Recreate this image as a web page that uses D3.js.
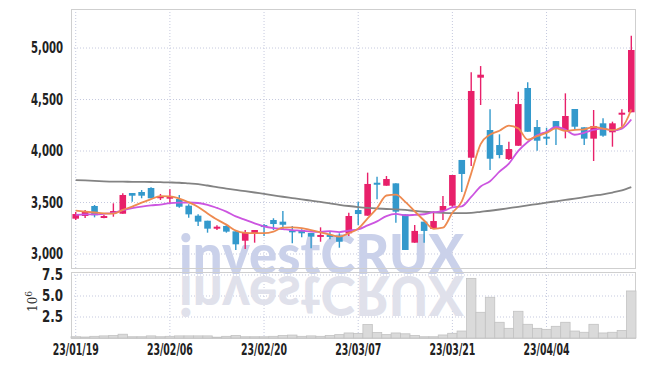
<!DOCTYPE html>
<html>
<head>
<meta charset="utf-8">
<script src="https://cdn.jsdelivr.net/npm/d3@7"></script>
<style>
  body { margin: 0; background: #fff; }
  svg { display: block; }
</style>
</head>
<body>
<div id="chart"></div>
<script>
// trading days shown on the chart
var dates = ["23/01/19","23/01/20","23/01/25","23/01/26","23/01/27","23/01/30","23/01/31","23/02/01","23/02/02","23/02/03",
  "23/02/06","23/02/07","23/02/08","23/02/09","23/02/10","23/02/13","23/02/14","23/02/15","23/02/16","23/02/17",
  "23/02/20","23/02/21","23/02/22","23/02/23","23/02/24","23/02/27","23/02/28","23/03/02","23/03/03","23/03/06",
  "23/03/07","23/03/08","23/03/09","23/03/10","23/03/13","23/03/14","23/03/15","23/03/16","23/03/17","23/03/20",
  "23/03/21","23/03/22","23/03/23","23/03/24","23/03/27","23/03/28","23/03/29","23/03/30","23/03/31","23/04/03",
  "23/04/04","23/04/05","23/04/06","23/04/07","23/04/10","23/04/11","23/04/12","23/04/13","23/04/14","23/04/17"];
var dateTicks = ["23/01/19","23/02/06","23/02/20","23/03/07","23/03/21","23/04/04"];

var open  = [3343,3369,3466,3356,3398,3391,3592,3602,3641,3541, 3537,3534,3469,3372,3323,3246,3272,3220,3129,3201,
  3281,3330,3314,3230,3233,3204,3168,3185,3178,3201, 3427,3372,3692,3663,3686,3385,3110,3314,3243,3420,
  3469,3913,3935,4712,4204,4058,3922,4051,4612,4233, 4139,4291,4204,4408,4230,4120,4269,4182,4353,4376];
var high  = [3408,3427,3476,3379,3492,3589,3592,3621,3648,3583, 3628,3573,3482,3385,3323,3279,3281,3233,3233,3233,
  3291,3347,3417,3272,3240,3204,3259,3224,3201,3401, 3508,3790,3750,3757,3686,3385,3282,3314,3414,3563,
  3767,3913,4764,4825,4405,4162,4090,4576,4667,4301, 4226,4291,4560,4408,4230,4398,4317,4285,4405,5119];
var low   = [3330,3349,3356,3347,3362,3391,3508,3541,3541,3524, 3495,3450,3352,3272,3207,3233,3207,3039,3048,3110,
  3175,3233,3233,3104,3162,3055,3119,3143,3061,3175, 3282,3372,3531,3663,3304,3039,3110,3110,3243,3330,
  3450,3602,3854,4447,3816,3929,3913,4051,4187,4003, 4058,4058,4123,4204,4058,3903,4139,4042,4236,4376];
var close = [3388,3408,3376,3369,3417,3573,3566,3566,3541,3563, 3563,3459,3385,3314,3246,3265,3217,3094,3207,3233,
  3265,3291,3284,3217,3201,3168,3185,3168,3119,3369, 3388,3680,3673,3728,3411,3039,3224,3224,3320,3466,
  3767,3777,4583,4741,3925,3961,4019,4456,4187,4100, 4120,4233,4340,4236,4120,4243,4149,4269,4372,4981];
// volume in millions
var volume = [0.15,0.12,0.2,0.25,0.3,0.45,0.15,0.15,0.25,0.15, 0.2,0.25,0.25,0.25,0.25,0.1,0.2,0.3,0.15,0.15,
  0.15,0.2,0.3,0.35,0.2,0.25,0.2,0.3,0.4,0.6, 0.55,1.6,0.65,0.4,0.6,0.5,0.3,0.15,0.15,0.36,
  0.56,0.83,7.1,3.06,4.85,1.87,1.15,3.18,1.63,1.15, 1.03,1.39,1.87,0.83,0.68,1.63,0.6,0.68,0.9,5.6];

// moving averages as drawn
var ma5  = [3422,3412,3403,3395,3392,3429,3460,3498,3533,3562, 3560,3538,3502,3457,3393,3334,3285,3227,3206,3203,
  3203,3218,3256,3258,3252,3232,3211,3188,3168,3202, 3246,3345,3446,3568,3576,3506,3415,3325,3244,3255,
  3400,3511,3783,4067,4159,4197,4246,4220,4110,4145, 4176,4219,4196,4206,4210,4234,4218,4203,4231,4403];
var ma10 = [3380,3385,3385,3390,3400,3425,3445,3460,3472,3480, 3494,3499,3500,3495,3478,3447,3412,3365,3331,3298,
  3269,3252,3242,3232,3227,3218,3215,3222,3213,3227, 3239,3278,3317,3368,3389,3376,3380,3386,3406,3415,
  3453,3463,3554,3655,3707,3799,3878,4002,4088,4152, 4187,4233,4208,4158,4177,4205,4218,4200,4218,4306];
var ma60 = [3718,3714,3710,3706,3703,3702,3701,3700,3699,3697, 3695,3692,3685,3678,3665,3650,3635,3622,3610,3597,
  3583,3570,3556,3543,3530,3518,3506,3492,3478,3466, 3456,3448,3442,3437,3434,3428,3418,3410,3404,3400,
  3397,3396,3400,3410,3420,3432,3445,3458,3472,3485, 3499,3512,3525,3538,3552,3566,3580,3597,3618,3650];

var priceTicks = [3000,3500,4000,4500,5000];
var volTicks = [2.5,5.0,7.5];

var width = 645, height = 366;
var left = 71, right = 636;
var mainTop = 9, mainBottom = 268;
var volTop = 272, volBottom = 338;
var upColor = "#e8206a", downColor = "#3399cc";
var labelFont = "'Liberation Sans Narrow','DejaVu Sans Condensed',sans-serif";

var svg = d3.select("#chart").append("svg")
    .attr("width", width)
    .attr("height", height);

var x = d3.scaleBand()
  .domain(dates)
  .range([left, right])
  .paddingInner(0.3)
  .paddingOuter(0.15);
var cx = function(i) { return x(dates[i]) + x.bandwidth() / 2; };

var y = d3.scaleLinear()
  .domain([2864, 5379])
  .range([mainBottom, mainTop]);

var yv = d3.scaleLinear()
  .domain([0, 7.5])
  .range([volBottom, 275]);

// grid lines
var grid = svg.append("g")
  .attr("stroke", "#c5c9de")
  .attr("stroke-width", 1)
  .attr("stroke-dasharray", "1,2");
priceTicks.forEach(function(t) {
  grid.append("line").attr("x1", left).attr("x2", right).attr("y1", y(t)).attr("y2", y(t));
});
volTicks.forEach(function(t) {
  grid.append("line").attr("x1", left).attr("x2", right).attr("y1", yv(t)).attr("y2", yv(t));
});
dateTicks.forEach(function(d) {
  var xx = x(d) + x.bandwidth() / 2;
  grid.append("line").attr("x1", xx).attr("x2", xx).attr("y1", mainTop).attr("y2", mainBottom);
  grid.append("line").attr("x1", xx).attr("x2", xx).attr("y1", volTop).attr("y2", volBottom);
});

// watermark and its reflection
var wm = svg.append("g").attr("font-family", "Lato, 'Open Sans', sans-serif").attr("font-weight", 900)
  .attr("font-size", 56);
wm.append("text")
  .attr("x", 179).attr("y", 274)
  .attr("textLength", 285).attr("lengthAdjust", "spacingAndGlyphs")
  .attr("fill", "#cad1ea")
  .text("investCRUX");
wm.append("text")
  .attr("x", 179).attr("y", 274)
  .attr("transform", "translate(0,550) scale(1,-1)")
  .attr("textLength", 285).attr("lengthAdjust", "spacingAndGlyphs")
  .attr("fill", "#e0e1eb")
  .text("investCRUX");

// panel frames
svg.append("rect")
  .attr("x", left + 0.5).attr("y", mainTop + 0.5)
  .attr("width", right - left - 1).attr("height", mainBottom - mainTop)
  .attr("fill", "none").attr("stroke", "#cfcfcf");
svg.append("rect")
  .attr("x", left + 0.5).attr("y", volTop + 0.5)
  .attr("width", right - left - 1).attr("height", volBottom - volTop)
  .attr("fill", "none").attr("stroke", "#cfcfcf");

// volume bars
svg.append("g").selectAll("rect")
  .data(volume)
  .enter().append("rect")
    .attr("x", function(d, i) { return cx(i) - x.step() / 2; })
    .attr("width", x.step())
    .attr("y", function(d) { return yv(d); })
    .attr("height", function(d) { return yv(0) - yv(d); })
    .attr("fill", "#dadada")
    .attr("stroke", "#c2c2c2")
    .attr("stroke-width", 0.8);

// candles
var candles = svg.append("g").selectAll("g")
  .data(d3.range(dates.length))
  .enter().append("g")
    .attr("fill", function(i) { return close[i] >= open[i] ? upColor : downColor; })
    .attr("stroke", function(i) { return close[i] >= open[i] ? upColor : downColor; });
candles.append("line")
  .attr("x1", cx).attr("x2", cx)
  .attr("y1", function(i) { return y(high[i]); })
  .attr("y2", function(i) { return y(low[i]); })
  .attr("stroke-width", 1.4);
candles.append("rect")
  .attr("x", function(i) { return x(dates[i]); })
  .attr("width", x.bandwidth())
  .attr("y", function(i) { return y(Math.max(open[i], close[i])); })
  .attr("height", function(i) { return Math.max(2, Math.abs(y(open[i]) - y(close[i]))); })
  .attr("stroke", "none");

// moving average lines
function maLine(values, color) {
  svg.append("path")
    .datum(values)
    .attr("fill", "none")
    .attr("stroke", color)
    .attr("stroke-width", 1.8)
    .attr("d", d3.line()
      .x(function(d, i) { return cx(i); })
      .y(function(d) { return y(d); })
      .curve(d3.curveMonotoneX));
}
maLine(ma60, "#838383");
maLine(ma10, "#cc55e0");
maLine(ma5, "#ee8a50");

// axes
var axisY = svg.append("g")
  .attr("transform", "translate(" + (left - 5) + ",0)")
  .call(d3.axisLeft(y).tickValues(priceTicks).tickFormat(d3.format(",")).tickSize(0));
var axisV = svg.append("g")
  .attr("transform", "translate(" + (left - 5) + ",0)")
  .call(d3.axisLeft(yv).tickValues(volTicks).tickFormat(d3.format(".1f")).tickSize(0));
var axisX = svg.append("g")
  .attr("transform", "translate(0," + (volBottom + 3) + ")")
  .call(d3.axisBottom(x).tickValues(dateTicks).tickSize(0));
[[axisY, 32], [axisV, 21], [axisX, 46]].forEach(function(a) {
  a[0].select(".domain").remove();
  a[0].selectAll(".tick text")
    .attr("font-size", 15)
    .attr("font-family", labelFont)
    .attr("font-weight", "bold")
    .attr("fill", "#222")
    .attr("textLength", a[1])
    .attr("lengthAdjust", "spacingAndGlyphs");
});

// volume unit
var unit = svg.append("text")
  .attr("transform", "translate(37,312) rotate(-90)")
  .attr("font-family", "'DejaVu Serif', serif")
  .attr("font-size", 12)
  .attr("fill", "#333");
unit.append("tspan").text("10");
unit.append("tspan").attr("font-size", 9).attr("dy", -5).text("6");
</script>
</body>
</html>
